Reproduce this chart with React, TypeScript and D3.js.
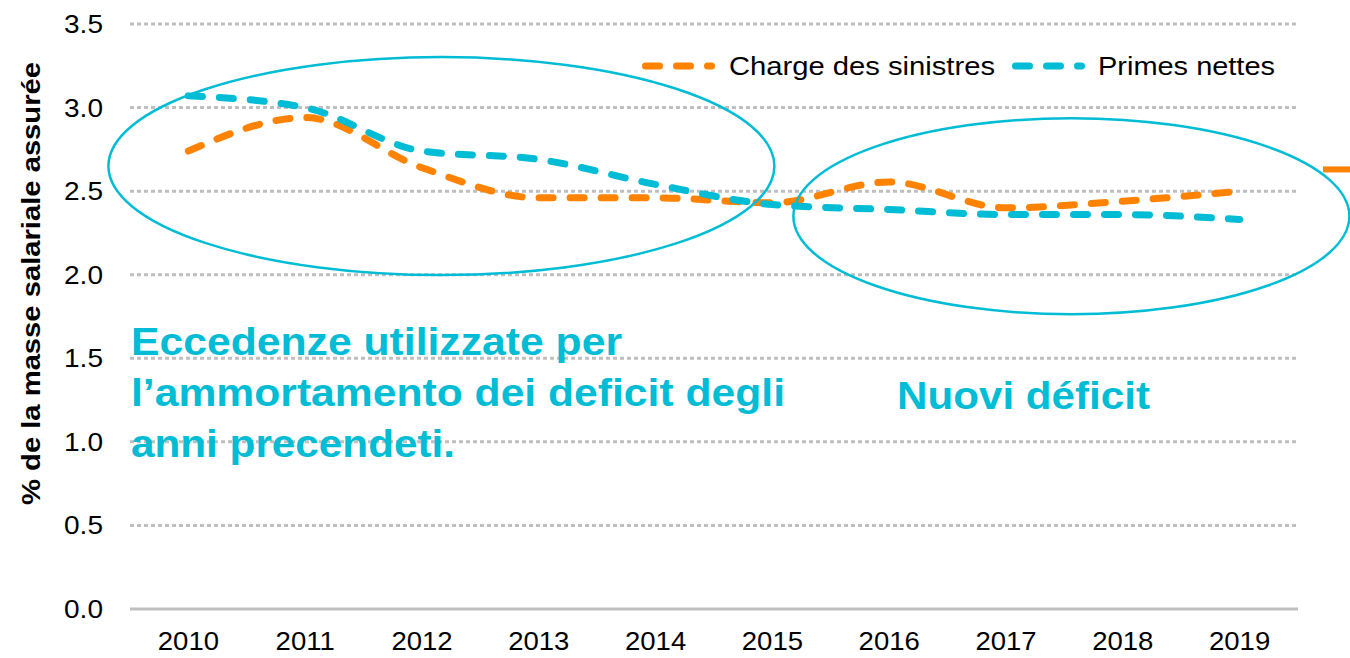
import React from 'react';
import * as d3 from 'd3';

// values
const years = ['2010', '2011', '2012', '2013', '2014', '2015', '2016', '2017', '2018', '2019'];
const chargeSinistres = [2.74, 2.94, 2.64, 2.46, 2.46, 2.43, 2.555, 2.40, 2.44, 2.50];
const primesNettes = [3.07, 3.00, 2.74, 2.69, 2.54, 2.42, 2.39, 2.36, 2.36, 2.33];
const yTicks = [0, 0.5, 1.0, 1.5, 2.0, 2.5, 3.0, 3.5];
const offChartLevel = 2.63; // clipped orange stub at the right edge

const leftNote = [
  { text: 'Eccedenze utilizzate per', width: 491 },
  { text: 'l\u2019ammortamento dei deficit degli', width: 654 },
  { text: 'anni precendeti.', width: 324 },
];
const rightNote = { text: 'Nuovi déficit', width: 253 };

const ORANGE = '#ff8300';
const CYAN = '#00bcd4';
const GRID = '#bfbfbf';
const FONT = 'Liberation Sans, Arial, sans-serif';

const width = 1350;
const height = 658;
const plot = { left: 130, right: 1298, top: 24, bottom: 609 };

const LINE_W = 7;
const DASH = '14,17';

const App: React.FC = () => {
  const x = d3.scaleBand<string>().domain(years).range([plot.left, plot.right]);
  const cx = (d: string) => (x(d) ?? 0) + x.bandwidth() / 2;
  const y = d3.scaleLinear().domain([0, 3.5]).range([plot.bottom, plot.top]);

  const line = d3
    .line<number>()
    .x((_, i) => cx(years[i]))
    .y(d => y(d))
    .curve(d3.curveMonotoneX);

  // highlight ellipses, placed relative to the data
  const ell1 = { cx: (cx('2012') + cx('2013')) / 2 - 39, cy: y(2.65), rx: 333, ry: 109 };
  const ell2 = { cx: (cx('2017') + cx('2018')) / 2 + 7, cy: y(2.35), rx: 278, ry: 98 };

  const legend = [
    { label: 'Charge des sinistres', color: ORANGE, x0: 645.5, tx: 729, tw: 266 },
    { label: 'Primes nettes', color: CYAN, x0: 1015.5, tx: 1098, tw: 177 },
  ];

  return (
    <svg
      width={width}
      height={height}
      style={{ position: 'absolute', left: 0, top: 0, background: '#fff' }}
      fontFamily={FONT}
    >
      {/* grid */}
      {yTicks.map(t => (
        <line
          key={t}
          x1={plot.left}
          x2={plot.right}
          y1={y(t)}
          y2={y(t)}
          stroke={GRID}
          strokeWidth={3}
          strokeDasharray={t === 0 ? undefined : '4,3'}
        />
      ))}

      {/* y tick labels */}
      {yTicks.map(t => (
        <g key={'yl' + t} transform={`translate(103,${y(t) + 9}) scale(1.1,1)`}>
          <text textAnchor="end" fontSize={25.5} fill="#000">
            {t.toFixed(1)}
          </text>
        </g>
      ))}

      {/* x tick labels */}
      {years.map(yr => (
        <g key={yr} transform={`translate(${cx(yr)},650) scale(1.08,1)`}>
          <text textAnchor="middle" fontSize={25.5} fill="#000">
            {yr}
          </text>
        </g>
      ))}

      {/* y axis title */}
      <text
        transform={`translate(40,${(62 + 505) / 2}) rotate(-90)`}
        textAnchor="middle"
        fontSize={26}
        fontWeight="bold"
        fill="#000"
        textLength={443}
        lengthAdjust="spacingAndGlyphs"
      >
        % de la masse salariale assurée
      </text>

      {/* series */}
      <path
        d={line(chargeSinistres) ?? ''}
        fill="none"
        stroke={ORANGE}
        strokeWidth={LINE_W}
        strokeDasharray={DASH}
        strokeLinecap="round"
      />
      <path
        d={line(primesNettes) ?? ''}
        fill="none"
        stroke={CYAN}
        strokeWidth={LINE_W}
        strokeDasharray={DASH}
        strokeLinecap="round"
      />

      <line x1={1323} x2={width} y1={y(offChartLevel)} y2={y(offChartLevel)} stroke={ORANGE} strokeWidth={6} />

      {/* ellipses */}
      {[ell1, ell2].map((e, i) => (
        <ellipse key={i} cx={e.cx} cy={e.cy} rx={e.rx} ry={e.ry} fill="none" stroke={CYAN} strokeWidth={2.5} />
      ))}

      {/* legend */}
      {legend.map(l => (
        <g key={l.label}>
          <line
            x1={l.x0}
            x2={l.x0 + 66}
            y1={66}
            y2={66}
            stroke={l.color}
            strokeWidth={LINE_W}
            strokeDasharray={DASH}
            strokeLinecap="round"
          />
          <text
            x={l.tx}
            y={75}
            fontSize={25.5}
            fill="#000"
            textLength={l.tw}
            lengthAdjust="spacingAndGlyphs"
          >
            {l.label}
          </text>
        </g>
      ))}

      {/* annotations */}
      {leftNote.map((n, i) => (
        <text
          key={i}
          x={131}
          y={355 + i * 51}
          fontSize={38}
          fontWeight="bold"
          fill={CYAN}
          textLength={n.width}
          lengthAdjust="spacingAndGlyphs"
        >
          {n.text}
        </text>
      ))}
      <text
        x={897}
        y={409}
        fontSize={38}
        fontWeight="bold"
        fill={CYAN}
        textLength={rightNote.width}
        lengthAdjust="spacingAndGlyphs"
      >
        {rightNote.text}
      </text>
    </svg>
  );
};

export default App;
